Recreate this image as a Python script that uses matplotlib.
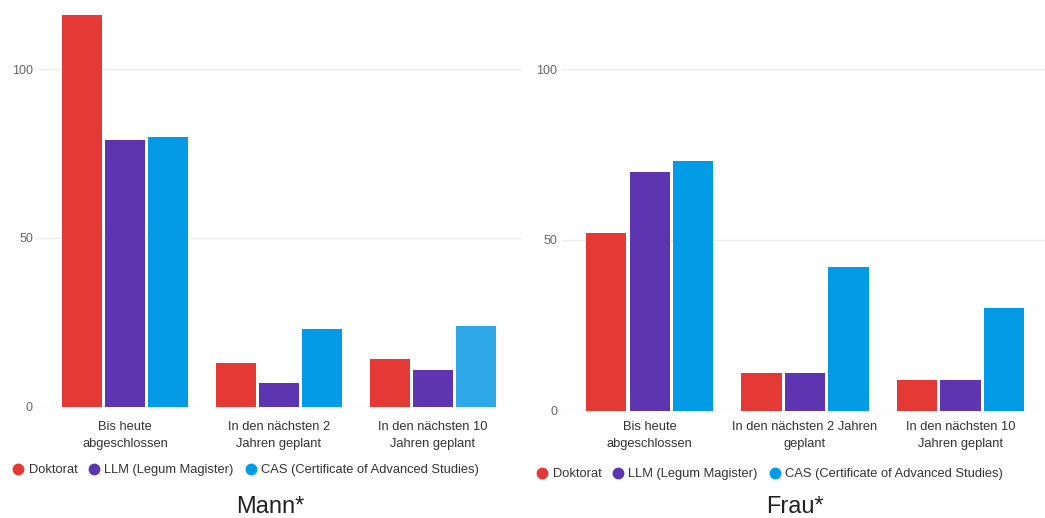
import matplotlib
matplotlib.use("Agg")
import matplotlib.pyplot as plt
from matplotlib.lines import Line2D
import numpy as np

plt.rcParams["font.family"] = ["Liberation Sans", "DejaVu Sans"]

# Data
series = ["Doktorat", "LLM (Legum Magister)", "CAS (Certificate of Advanced Studies)"]
categories_mann = ["Bis heute\nabgeschlossen", "In den nächsten 2\nJahren geplant",
                   "In den nächsten 10\nJahren geplant"]
categories_frau = ["Bis heute\nabgeschlossen", "In den nächsten 2 Jahren\ngeplant",
                   "In den nächsten 10\nJahren geplant"]
mann_doktorat = [116, 13, 14]
mann_llm = [79, 7, 11]
mann_cas = [80, 23, 24]
frau_doktorat = [52, 11, 9]
frau_llm = [70, 11, 9]
frau_cas = [73, 42, 30]
yticks = [0, 50, 100]

RED, PURPLE, BLUE, BLUE_LIGHT = "#E53935", "#5E35B1", "#039BE5", "#2EA8E6"
colors = [RED, PURPLE, BLUE]

W, H = 1045, 518
fig = plt.figure(figsize=(W / 100, H / 100), dpi=100)


def px_axes(x0, x1, ytop, ybot):
    return fig.add_axes([x0 / W, (H - ybot) / H, (x1 - x0) / W, (ybot - ytop) / H])


def draw_panel(ax, cats, values, bar_colors, xlim, ylim, pad_x, pad_y, legend_y, legend_x):
    x = np.arange(len(cats))
    step, width = 0.28, 0.26
    for i, (vals, col) in enumerate(zip(values, bar_colors)):
        ax.bar(x + (i - 1) * step, vals, width=width, color=col, zorder=3)
    ax.set_xlim(*xlim)
    ax.set_ylim(*ylim)
    ax.set_yticks(yticks)
    ax.set_yticklabels([str(t) for t in yticks])
    ax.set_xticks(x)
    ax.set_xticklabels(cats, fontsize=9.3, color="#333333", linespacing=1.55)
    ax.tick_params(axis="x", length=0, pad=pad_x)
    ax.tick_params(axis="y", length=0, pad=pad_y, labelsize=9, labelcolor="#666666")
    ax.grid(axis="y", color="#EEEEEE", linewidth=1, zorder=0)
    for s in ax.spines.values():
        s.set_visible(False)
    handles = [Line2D([], [], marker="o", linestyle="none", markersize=7.5,
                      markerfacecolor=c, markeredgecolor=c) for c in colors]
    fig.legend(handles, series, loc="center left",
               bbox_to_anchor=(legend_x / W, 1 - legend_y / H), ncol=3,
               frameon=False, fontsize=9.3, labelcolor="#333333",
               handlelength=0.8, handletextpad=0.4, columnspacing=0.9,
               borderaxespad=0, borderpad=0)


# Mann*
ax1 = px_axes(35, 522, 10, 406.7)
draw_panel(ax1, categories_mann, [mann_doktorat, mann_llm, mann_cas],
           [RED, PURPLE, [BLUE, BLUE, BLUE_LIGHT]],
           xlim=(-0.584, 2.578), ylim=(0, (406.7 - 10) / 3.374),
           pad_x=10, pad_y=1.5, legend_y=470, legend_x=13)

# Frau*
ax2 = px_axes(562, 1045, 10, 410.7)
draw_panel(ax2, categories_frau, [frau_doktorat, frau_llm, frau_cas],
           [RED, PURPLE, BLUE],
           xlim=(-0.565, 2.545), ylim=(0, (410.7 - 10) / 3.414),
           pad_x=7.3, pad_y=3.5, legend_y=474, legend_x=537)

fig.text(270 / W, 1 - 507 / H, "Mann*", ha="center", va="center", fontsize=17, color="#222222")
fig.text(795 / W, 1 - 507 / H, "Frau*", ha="center", va="center", fontsize=17, color="#222222")

fig.savefig("out.png", dpi=100, facecolor="white")
